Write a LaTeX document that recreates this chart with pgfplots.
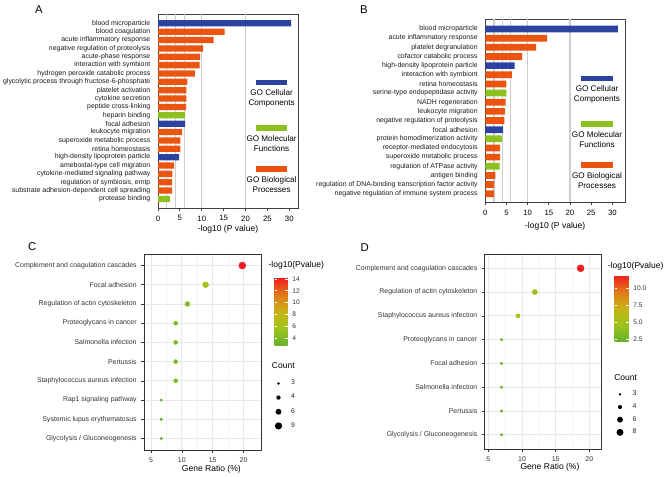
\documentclass[border=0pt]{standalone}
\usepackage{fontspec}
\setmainfont{Liberation Sans}
\usepackage{pgfplots}
\pgfplotsset{compat=1.18}
\definecolor{gblue}{RGB}{44,66,160}
\definecolor{gorange}{RGB}{234,84,14}
\definecolor{ggreen}{RGB}{140,194,31}
\definecolor{frame}{RGB}{64,64,64}
\definecolor{ggrid}{RGB}{205,205,205}
\newcommand{\fa}{\fontsize{5.2pt}{6pt}\selectfont}
\newcommand{\fb}{\fontsize{6.4pt}{7.5pt}\selectfont}
\newcommand{\fc}{\fontsize{5pt}{6pt}\selectfont}
\newcommand{\fd}{\fontsize{5.8pt}{7pt}\selectfont}
\newcommand{\fe}{\fontsize{6.1pt}{7.5pt}\selectfont}
\newcommand{\fl}{\fontsize{8.5pt}{10pt}\selectfont}
\pgfplotsset{
 /pgf/number format/assume math mode=true,
 colormap={gg}{rgb255=(104,178,46) rgb255=(158,196,28) rgb255=(200,178,22) rgb255=(226,120,22) rgb255=(238,30,32)},
 barpanel/.style={scale only axis, anchor=south west, xbar, y dir=reverse,
  xmin=0, xtick={0,5,...,30}, xtick pos=bottom, ytick pos=left,
  tick align=outside, major tick length=2.2pt,
  ytick style={draw=none}, xtick style={draw=frame, line width=0.6pt},
  axis line style={draw=frame, line width=0.75pt},
  xticklabel style={font=\fd}, yticklabel style={font=\fa, text=black!90},
  extra x ticks={2,4,6,10,20}, extra x tick labels={},
  extra x tick style={grid=major, major tick length=0pt},
  major grid style={draw=ggrid, line width=1.1pt},
  xlabel style={at={(axis description cs:0.5,0)}, anchor=center, font=\fb}},
 dotpanel/.style={scale only axis, anchor=south west, y dir=reverse,
  xtick={5,10,15,20}, minor xtick={7.5,12.5,17.5}, grid=both,
  major grid style={draw=black!9, line width=0.7pt},
  minor grid style={draw=black!5, line width=0.4pt},
  axis line style={draw=black!80, line width=0.7pt},
  tick align=outside, xtick pos=bottom, ytick pos=left,
  major tick length=2pt, minor tick length=0pt,
  tick style={draw=black!80, line width=0.4pt},
  ticklabel style={font=\fa, text=black!80},
  xlabel style={font=\fb, anchor=center},
  colormap name=gg,
  legend cell align=left,
  legend style={draw=none, fill=none, inner sep=0pt, font=\fa, row sep=1.5pt, text=black!85}},
 dots/.style={scatter, only marks, mark=*, point meta=explicit, forget plot,
  scatter/use mapped color={draw=mapped color, fill=mapped color}},
 cbar/.style={axis line style={draw=none}, tick align=inside,
  ytick pos=both, yticklabel pos=right, major tick length=2pt,
  tick style={draw=white, line width=0.5pt}, axis on top,
  yticklabel style={font=\fc, text=black!80}},
}
\newcommand{\cnt}[1]{\addlegendimage{legend image code/.code={\path[draw=none,fill=none] (-2.8pt,-3pt) rectangle (7.5pt,3pt); \fill[black,draw=none] (0pt,0pt) circle (#1);}}}
\begin{document}
\begin{tikzpicture}[x=0.75pt,y=-0.75pt]
\useasboundingbox (0,0) rectangle (666,476);
% ---------------- A ----------------
\begin{axis}[barpanel, at={(118.5pt,-156pt)}, width=105pt, height=145.5pt,
 xmax=32, ymin=-1.11, ymax=22.08, bar width=0.75,
 ytick={0,...,21},
 yticklabels={blood microparticle, blood coagulation, acute inflammatory response, negative regulation of proteolysis, acute-phase response, interaction with symbiont, hydrogen peroxide catabolic process, glycolytic process through fructose-6-phosphate, platelet activation, cytokine secretion, peptide cross-linking, heparin binding, focal adhesion, leukocyte migration, superoxide metabolic process, retina homeostasis, high-density lipoprotein particle, ameboidal-type cell migration, cytokine-mediated signaling pathway, {regulation of symbiosis, emtp}, substrate adhesion-dependent cell spreading, protease binding},
 xlabel={-log10 (P value)}, xlabel style={yshift=-16pt}]
\addplot[fill=gblue, draw=none, bar shift=0pt] coordinates {(30.4,0) (6.2,12) (4.8,16)};
\addplot[fill=gorange, draw=none, bar shift=0pt] coordinates {(15.2,1) (12.7,2) (10.3,3) (9.6,4) (9.5,5) (8.4,6) (6.7,7) (6.5,8) (6.5,9) (6.4,10) (5.5,13) (5.1,14) (5.1,15) (3.7,17) (3.3,18) (3.2,19) (3.2,20)};
\addplot[fill=ggreen, draw=none, bar shift=0pt] coordinates {(6.2,11) (2.7,21)};
\end{axis}
% ---------------- B ----------------
\begin{axis}[barpanel, at={(363.98pt,-151.73pt)}, width=104.8pt, height=137.25pt,
 xmax=33, ymin=-1.06, ymax=18.94, bar width=0.73,
 ytick={0,...,18},
 yticklabels={blood microparticle, acute inflammatory response, platelet degranulation, cofactor catabolic process, high-density lipoprotein particle, interaction with symbiont, retina homeostasis, serine-type endopeptidase activity, NADH regeneration, leukocyte migration, negative regulation of proteolysis, focal adhesion, protein homodimerization activity, receptor-mediated endocytosis, superoxide metabolic process, regulation of ATPase activity, antigen binding, regulation of DNA-binding transcription factor activity, negative regulation of immune system process},
 xlabel={-log10 (P value)}, xlabel style={yshift=-18.3pt}]
\addplot[fill=gblue, draw=none, bar shift=0pt] coordinates {(31.3,0) (6.9,4) (4.2,11)};
\addplot[fill=gorange, draw=none, bar shift=0pt] coordinates {(14.6,1) (12.0,2) (8.7,3) (6.3,5) (5.0,6) (4.8,8) (4.6,9) (4.5,10) (3.5,13) (3.5,14) (2.4,16) (2.1,17) (2.0,18)};
\addplot[fill=ggreen, draw=none, bar shift=0pt] coordinates {(5.0,7) (3.9,12) (3.4,15)};
\end{axis}
% ---------------- C ----------------
\begin{axis}[dotpanel, at={(108pt,-337.5pt)}, width=88.1pt, height=147pt,
 xmin=3.87, xmax=22.9, ymin=-0.6, ymax=9.6, ytick={0,...,9},
 yticklabels={Complement and coagulation cascades, Focal adhesion, Regulation of actin cytoskeleton, Proteoglycans in cancer, Salmonella infection, Pertussis, Staphylococcus aureus infection, Rap1 signaling pathway, Systemic lupus erythematosus, Glycolysis / Gluconeogenesis},
 xlabel={Gene Ratio (\%)}, xlabel style={at={(axis description cs:0.573,0)}, yshift=-14.25pt},
 point meta min=2.8, point meta max=14.2,
 colorbar, colorbar style={cbar, at={(parent axis.north east)}, anchor=north west, xshift=1.4pt, yshift=-17.8pt, width=9.75pt, height=50.5pt, ytick={4,6,...,14}},
 legend style={at={(axis description cs:1.111,0.372)}, anchor=north west}]
\addplot[dots, mark size=2.6pt] coordinates {(19.8,0) [14.2]};
\addplot[dots, mark size=2.15pt] coordinates {(13.85,1) [6.3]};
\addplot[dots, mark size=1.8pt] coordinates {(10.9,2) [4.6]};
\addplot[dots, mark size=1.5pt] coordinates {(9.0,3) [4.2] (9.0,4) [4.1] (9.0,5) [4.0] (9.0,6) [4.0]};
\addplot[dots, mark size=0.95pt] coordinates {(6.65,7) [3.1] (6.65,8) [3.0] (6.65,9) [2.9]};
\cnt{1.0pt}\addlegendentry{3}
\cnt{1.6pt}\addlegendentry{4}
\cnt{2.2pt}\addlegendentry{6}
\cnt{2.7pt}\addlegendentry{9}
\end{axis}
% ---------------- D ----------------
\begin{axis}[dotpanel, at={(363.53pt,-336.75pt)}, width=87.45pt, height=146.25pt,
 xmin=4.46, xmax=21.78, ymin=-0.6, ymax=7.6, ytick={0,...,7},
 yticklabels={Complement and coagulation cascades, Regulation of actin cytoskeleton, Staphylococcus aureus infection, Proteoglycans in cancer, Focal adhesion, Salmonella infection, Pertussis, Glycolysis / Gluconeogenesis},
 xlabel={Gene Ratio (\%)}, xlabel style={at={(axis description cs:0.56,0)}, yshift=-14pt},
 point meta min=2.25, point meta max=12.0,
 colorbar, colorbar style={cbar, at={(parent axis.north east)}, anchor=north west, xshift=1.5pt, yshift=-15.75pt, width=10.5pt, height=49.5pt, ytick={2.5,5,7.5,10}, yticklabel style={/pgf/number format/.cd, fixed, fixed zerofill, precision=1}},
 legend style={at={(axis description cs:1.126,0.313)}, anchor=north west, row sep=0.4pt}]
\addplot[dots, mark size=2.6pt] coordinates {(18.7,0) [12.0]};
\addplot[dots, mark size=1.95pt] coordinates {(11.9,1) [4.9]};
\addplot[dots, mark size=1.55pt] coordinates {(9.4,2) [5.4]};
\addplot[dots, mark size=0.95pt] coordinates {(6.95,3) [2.6] (6.95,4) [2.5] (6.95,5) [2.5] (6.95,6) [2.4] (6.95,7) [2.4]};
\cnt{1.0pt}\addlegendentry{3}
\cnt{1.55pt}\addlegendentry{4}
\cnt{2.2pt}\addlegendentry{6}
\cnt{2.6pt}\addlegendentry{8}
\end{axis}
% ---------------- legends / titles ----------------
\fill[gblue] (256,79.6) rectangle (287.3,85.1);
\node[font=\fe, align=center] at (271.6,98.3) {GO Cellular\\Components};
\fill[ggreen] (256,125.3) rectangle (287.3,130.8);
\node[font=\fe, align=center] at (271.6,143.2) {GO Molecular\\Functions};
\fill[gorange] (256,166.3) rectangle (287.3,171.8);
\node[font=\fe, align=center] at (271.6,184.8) {GO Biological\\Processes};
\fill[gblue] (581.3,75.6) rectangle (613,81.1);
\node[font=\fe, align=center] at (597,94.5) {GO Cellular\\Components};
\fill[ggreen] (581.3,121.3) rectangle (613,126.8);
\node[font=\fe, align=center] at (597,139.5) {GO Molecular\\Functions};
\fill[gorange] (581.3,162.3) rectangle (613,167.8);
\node[font=\fe, align=center] at (597,180.4) {GO Biological\\Processes};
\node[font=\fb, anchor=west, inner sep=0pt] at (268.3,265) {-log10(Pvalue)};
\node[font=\fb, anchor=west, inner sep=0pt] at (271.7,365.7) {Count};
\node[font=\fb, anchor=west, inner sep=0pt] at (607.7,266.7) {-log10(Pvalue)};
\node[font=\fb, anchor=west, inner sep=0pt] at (614,377.3) {Count};
\node[font=\fl] at (39,9.3) {A};
\node[font=\fl] at (364,10) {B};
\node[font=\fl] at (32.3,247) {C};
\node[font=\fl] at (364.7,247.3) {D};
\end{tikzpicture}
\end{document}
